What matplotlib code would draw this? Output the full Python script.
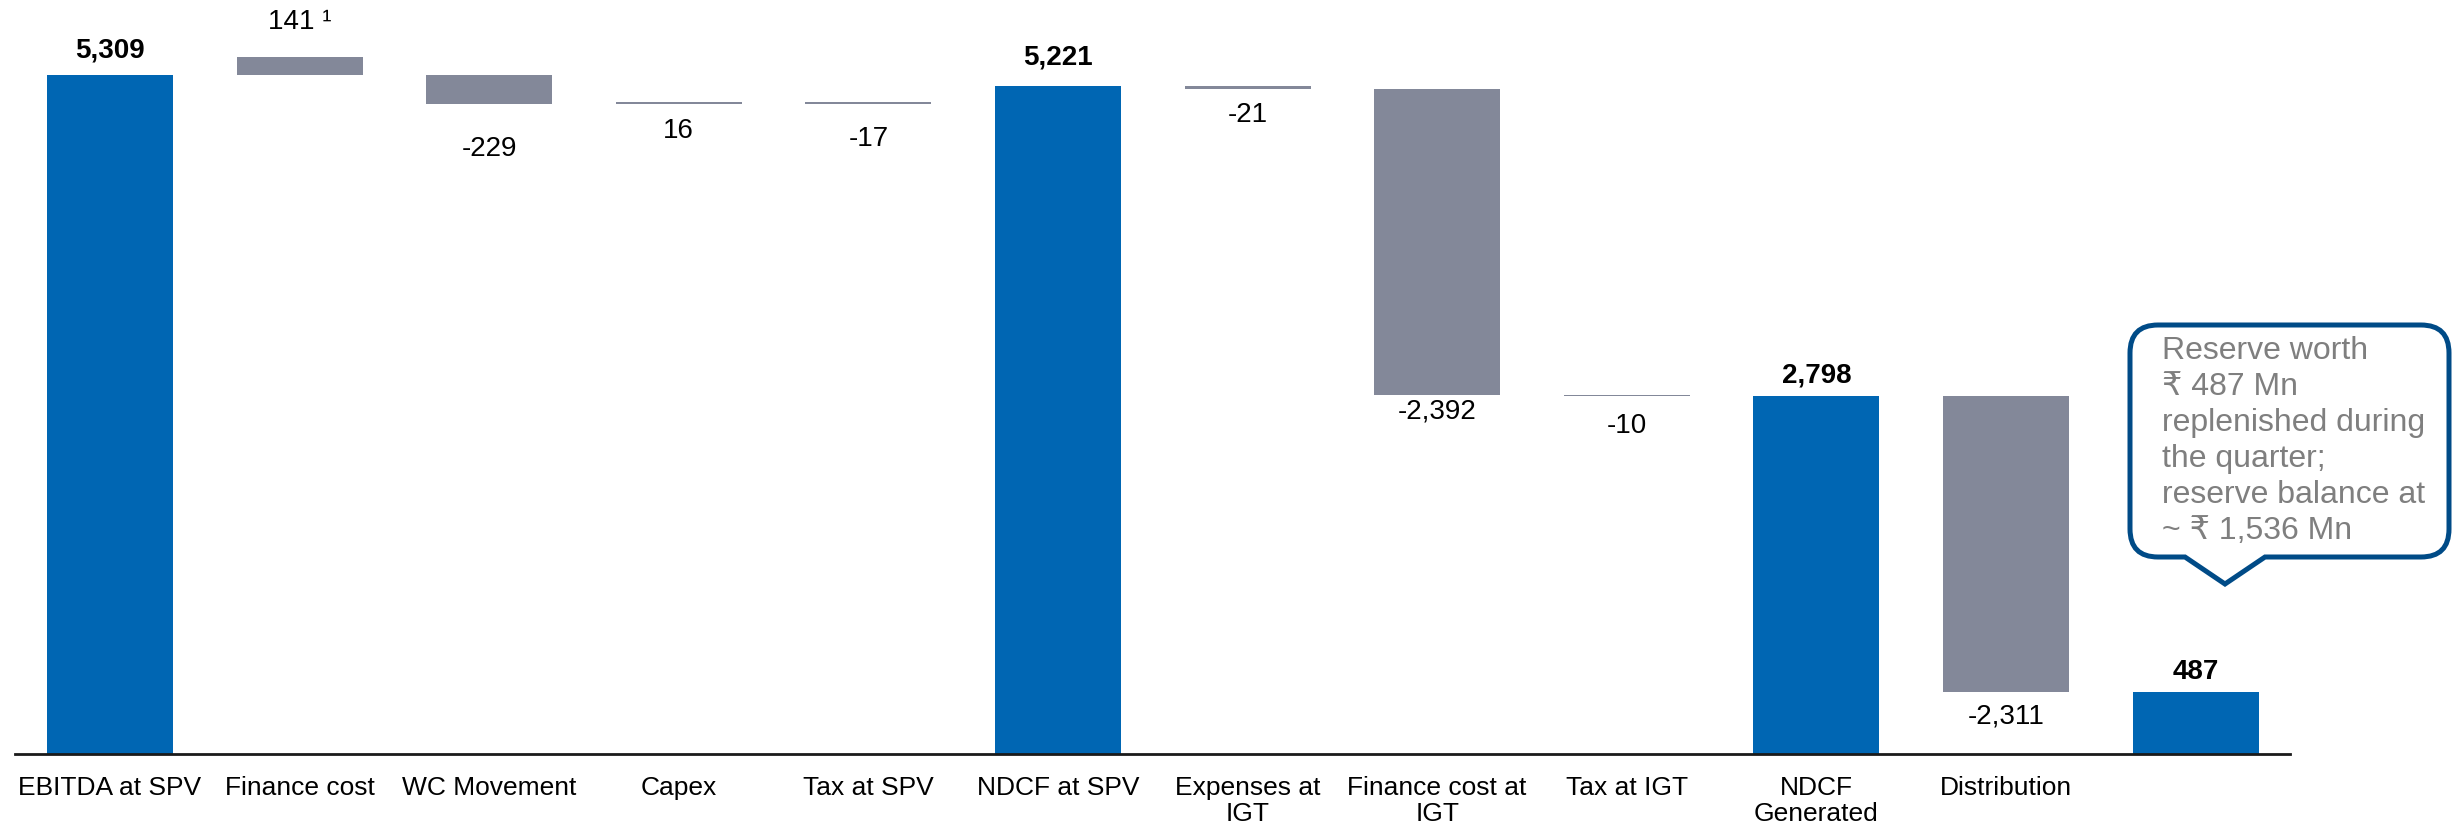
import matplotlib
matplotlib.use('Agg')
import matplotlib.pyplot as plt
from matplotlib.path import Path
from matplotlib.patches import PathPatch

plt.rcParams['font.family'] = ['Liberation Sans', 'DejaVu Sans']

# data (INR Mn)
categories = ['EBITDA at SPV', 'Finance cost', 'WC Movement', 'Capex', 'Tax at SPV',
              'NDCF at SPV', 'Expenses at\nIGT', 'Finance cost at\nIGT', 'Tax at IGT',
              'NDCF\nGenerated', 'Distribution', '']
values = [5309, 141, -229, 16, -17, 5221, -21, -2392, -10, 2798, -2311, 487]
# 'total' starts at zero, 'step' moves the running level, 'side' sits on top but does not carry
kinds = ['total', 'side', 'step', 'step', 'step', 'total', 'step', 'step', 'step',
         'total', 'step', 'total']
value_labels = ['5,309', '141 \u00b9', '-229', '16', '-17', '5,221', '-21', '-2,392',
                '-10', '2,798', '-2,311', '487']
callout_text = ('Reserve worth\n\u20b9 487 Mn\nreplenished during\nthe quarter;\n'
                'reserve balance at\n~ \u20b9 1,536 Mn')

# label distance from bar edge, pixels (text centre)
label_gap = [25, 35, 45, 27, 35, 29, 26, 17, 30, 21, 25, 20]

BLUE = '#0066B3'
GREY = '#838899'

W, H = 2453, 831
fig = plt.figure(figsize=(W / 100, H / 100), dpi=100)
px_per_unit = (754 - 75) / 5309
ymax = 5800
ax = fig.add_axes([15 / W, (H - 754) / H, 2275 / W, ymax * px_per_unit / H])

bottoms = []
level = 0
for v, k in zip(values, kinds):
    if k == 'total':
        bottoms.append(0)
        level = v
    elif k == 'side':
        bottoms.append(level)
    else:
        bottoms.append(level)
        level += v

x = list(range(len(values)))
colors = [BLUE if k == 'total' else GREY for k in kinds]
ax.bar(x, values, bottom=bottoms, width=0.665, color=colors, linewidth=0)

for i, (v, b, k, lab) in enumerate(zip(values, bottoms, kinds, value_labels)):
    top = max(b, b + v)
    low = min(b, b + v)
    gap = label_gap[i] * 0.72
    if k in ('total', 'side'):
        ax.annotate(lab, (i, top), xytext=(0, gap), textcoords='offset points',
                    ha='center', va='center', fontsize=20,
                    fontweight='bold' if k == 'total' else 'normal', color='black')
    else:
        ax.annotate(lab, (i, low), xytext=(0, -gap), textcoords='offset points',
                    ha='center', va='center', fontsize=20, color='black')

ax.set_xlim(-0.501, 11.498)
ax.set_ylim(0, ymax)
ax.set_xticks(x)
ax.set_xticklabels(categories, fontsize=19, linespacing=1.08)
ax.tick_params(axis='x', length=0, pad=16)
ax.set_yticks([])
for s in ['top', 'right', 'left']:
    ax.spines[s].set_visible(False)
ax.spines['bottom'].set_linewidth(2)
ax.spines['bottom'].set_color('#1a1a1a')

# callout bubble, figure pixel coords (y up)
L, R, T, B = 2130, 2449, H - 325, H - 557
r = 28
pl, pr, tx, ty = 2185, 2265, 2225, H - 584
verts = [(L + r, T), (R - r, T), (R, T), (R, T - r), (R, B + r), (R, B), (R - r, B),
         (pr, B), (tx, ty), (pl, B), (L + r, B), (L, B), (L, B + r), (L, T - r), (L, T),
         (L + r, T), (L + r, T)]
codes = [Path.MOVETO, Path.LINETO, Path.CURVE3, Path.CURVE3, Path.LINETO, Path.CURVE3,
         Path.CURVE3, Path.LINETO, Path.LINETO, Path.LINETO, Path.LINETO, Path.CURVE3,
         Path.CURVE3, Path.LINETO, Path.CURVE3, Path.CURVE3, Path.CLOSEPOLY]
verts = [(vx / W, vy / H) for vx, vy in verts]
bubble = PathPatch(Path(verts, codes), facecolor='white', edgecolor='#004B87',
                   linewidth=3.6, transform=fig.transFigure, joinstyle='miter')
fig.patches.append(bubble)
fig.text(2162 / W, (H - 336) / H, callout_text, ha='left', va='top', fontsize=23,
         color='#7F7F7F', linespacing=1.26)

fig.savefig('out.png', dpi=100)
